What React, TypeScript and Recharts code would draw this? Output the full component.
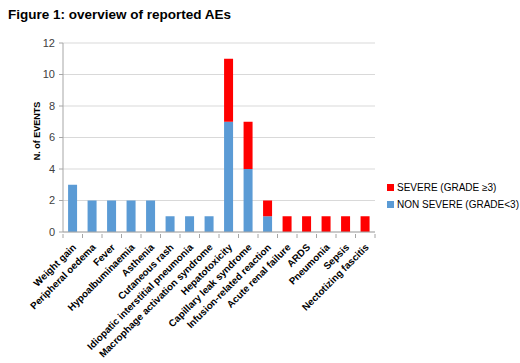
import React from 'react';
import { BarChart, Bar, XAxis, YAxis, CartesianGrid } from 'recharts';

const categories = [
  'Weight gain', 'Peripheral oedema', 'Fever', 'Hypoalbuminaemia', 'Asthenia',
  'Cutaneous rash', 'Idiopatic interstitial pneumonia', 'Macrophage activation syndrome',
  'Hepatotoxicity', 'Capillary leak syndrome', 'Infusion-related reaction',
  'Acute renal failure', 'ARDS', 'Pneumonia', 'Sepsis', 'Nectotizing fascitis',
];
const nonSevere = [3, 2, 2, 2, 2, 1, 1, 1, 7, 4, 1, 0, 0, 0, 0, 0];
const severe = [0, 0, 0, 0, 0, 0, 0, 0, 4, 3, 1, 1, 1, 1, 1, 1];
const yTicks = [0, 2, 4, 6, 8, 10, 12];

const data = categories.map((name, i) => ({ name, nonSevere: nonSevere[i], severe: severe[i] }));

const W = 520;
const H = 363;
const margin = { top: 43, right: 145, bottom: 0, left: 0 };
const yAxisWidth = 63;
const xAxisHeight = 131;
const plotW = W - margin.left - margin.right - yAxisWidth;
const band = plotW / categories.length;

const FONT = "'Liberation Sans', Arial, sans-serif";

const XTick = (props: any) => {
  const { x, y, payload, index } = props;
  const tx = x + 4;
  const ty = y + 6;
  return (
    <g>
      <line x1={x - band / 2} y1={y - 8} x2={x - band / 2} y2={y - 4} stroke="#A6A6A6" />
      {index === categories.length - 1 && (
        <line x1={x + band / 2} y1={y - 8} x2={x + band / 2} y2={y - 4} stroke="#A6A6A6" />
      )}
      <text
        x={tx}
        y={ty}
        transform={`rotate(-45, ${tx}, ${ty})`}
        textAnchor="end"
        fontSize={9.8}
        fontWeight="bold"
        fontFamily={FONT}
        fill="#000"
      >
        {payload.value}
      </text>
    </g>
  );
};

const YLabel = () => (
  <text
    x={40}
    y={131}
    transform="rotate(-90, 40, 131)"
    textAnchor="middle"
    fontSize={9}
    fontWeight="bold"
    fontFamily={FONT}
    fill="#000"
  >
    N. of EVENTS
  </text>
);

export default function App() {
  return (
    <div style={{ position: 'absolute', left: 0, top: 0, width: W, height: H, background: '#fff' }}>
      <div
        style={{
          position: 'absolute',
          left: 8,
          top: 7,
          fontFamily: FONT,
          fontWeight: 'bold',
          fontSize: 13.5,
          color: '#000',
          whiteSpace: 'nowrap',
        }}
      >
        Figure 1: overview of reported AEs
      </div>
      <BarChart width={W} height={H} data={data} margin={margin} barCategoryGap="26%">
        <CartesianGrid vertical={false} stroke="#D9D9D9" />
        <XAxis
          dataKey="name"
          interval={0}
          height={xAxisHeight}
          tickLine={false}
          axisLine={{ stroke: '#A6A6A6' }}
          tick={<XTick />}
          tickMargin={4}
        />
        <YAxis
          width={yAxisWidth}
          domain={[0, 12]}
          ticks={yTicks}
          interval={0}
          tickSize={4}
          tickMargin={4}
          tickLine={{ stroke: '#A6A6A6' }}
          axisLine={{ stroke: '#A6A6A6' }}
          tick={{ fontSize: 11, fontFamily: FONT, fill: '#404040' }}
          label={<YLabel />}
        />
        <Bar dataKey="nonSevere" stackId="a" fill="#5B9BD5" isAnimationActive={false} />
        <Bar dataKey="severe" stackId="a" fill="#FF0000" isAnimationActive={false} />
      </BarChart>
      <div style={{ position: 'absolute', left: 387, top: 179, fontFamily: FONT, fontSize: 10, color: '#000' }}>
        <div style={{ display: 'flex', alignItems: 'center', height: 17, whiteSpace: 'nowrap' }}>
          <span style={{ width: 7, height: 7, background: '#FF0000', marginRight: 3, display: 'inline-block' }} />
          SEVERE (GRADE ≥3)
        </div>
        <div style={{ display: 'flex', alignItems: 'center', height: 17, whiteSpace: 'nowrap' }}>
          <span style={{ width: 7, height: 7, background: '#5B9BD5', marginRight: 3, display: 'inline-block' }} />
          NON SEVERE (GRADE&lt;3)
        </div>
      </div>
    </div>
  );
}
